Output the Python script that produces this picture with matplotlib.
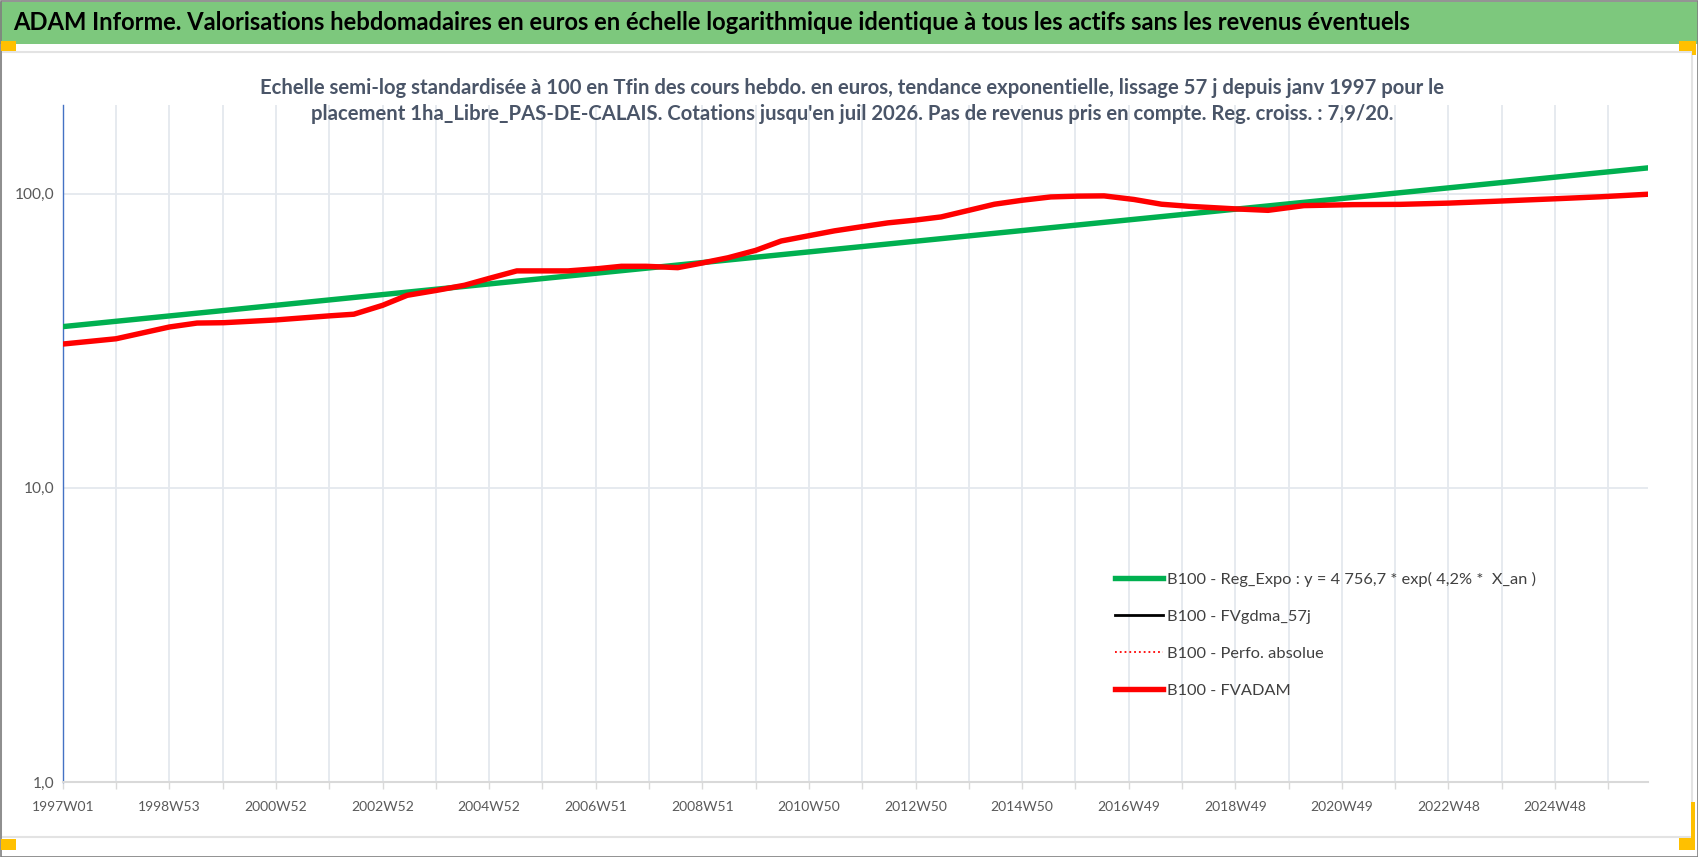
import matplotlib
matplotlib.use("Agg")
import matplotlib.pyplot as plt
from matplotlib.patches import Rectangle
from matplotlib.lines import Line2D

plt.rcParams["font.family"] = ["Lato", "DejaVu Sans"]

# -- data (week index since 1997W01, base 100 at end)
fvadam_week = [0, 52, 104, 131, 157, 208, 260, 284, 312, 336, 365, 392, 417, 443,
               493, 523, 545, 569, 600, 624, 649, 676, 701, 727, 753, 779, 805, 831,
               857, 884, 909, 936, 964, 990, 1016, 1045, 1072, 1099, 1144, 1176,
               1211, 1259, 1305, 1352, 1399, 1456, 1500, 1547]
fvadam_val = [30.8, 32.1, 35.2, 36.3, 36.4, 37.2, 38.4, 38.9, 41.7, 45.1, 46.9, 48.8,
              51.6, 54.6, 54.6, 55.6, 56.6, 56.6, 56.0, 58.1, 60.5, 64.1, 69.0, 71.8,
              74.7, 77.1, 79.5, 81.2, 83.3, 87.7, 92.0, 94.9, 97.4, 98.0, 98.2, 95.5,
              92.0, 90.5, 88.7, 87.7, 91.0, 91.7, 91.9, 92.8, 94.2, 96.0, 97.5, 99.5]
# moving average and absolute perf sit under the FVADAM curve
fvgdma_week = fvadam_week
fvgdma_val = fvadam_val
perfo_week = fvadam_week
perfo_val = fvadam_val
# exponential regression (straight on log scale)
reg_week = [0, 1547]
reg_val = [35.3, 122.3]

x_labels = ["1997W01", "1998W53", "2000W52", "2002W52", "2004W52", "2006W51",
            "2008W51", "2010W50", "2012W50", "2014W50", "2016W49", "2018W49",
            "2020W49", "2022W48", "2024W48"]
y_ticks = [1, 10, 100]
y_labels = ["1,0", "10,0", "100,0"]

series_labels = ["B100 - Reg_Expo : y = 4 756,7 * exp( 4,2% *  X_an )",
                 "B100 - FVgdma_57j", "B100 - Perfo. absolue", "B100 - FVADAM"]

title = ("ADAM Informe. Valorisations hebdomadaires en euros en échelle logarithmique "
         "identique à tous les actifs sans les revenus éventuels")
subtitle = ("Echelle semi-log standardisée à 100 en Tfin des cours hebdo. en euros, "
            "tendance exponentielle, lissage 57 j depuis janv 1997 pour le\n"
            "placement 1ha_Libre_PAS-DE-CALAIS. Cotations jusqu'en juil 2026. "
            "Pas de revenus pris en compte. Reg. croiss. : 7,9/20.")

GREEN = "#00B050"
RED = "#FF0000"
W, H = 1698, 857

fig = plt.figure(figsize=(W / 100, H / 100), dpi=100)
fig.patch.set_facecolor("white")


def px(x0, y0, x1, y1):
    # pixel box (top-left origin) -> figure fraction rect
    return (x0 / W, 1 - y1 / H), (x1 - x0) / W, (y1 - y0) / H


# title band
xy, w, h = px(0, 2, W, 44)
fig.patches.append(Rectangle(xy, w, h, transform=fig.transFigure,
                             facecolor="#7DC87D", edgecolor="none", zorder=0))
fig.text(13 / W, 1 - 23 / H, title, fontsize=17.1, fontweight="bold",
         color="black", ha="left", va="center")

# chart frame
xy, w, h = px(1, 52, 1692, 837)
fig.patches.append(Rectangle(xy, w, h, transform=fig.transFigure,
                             facecolor="none", edgecolor="#E3E3E3", lw=1.5))
xy, w, h = px(0.5, 0.5, W - 0.5, H - 0.5)
fig.patches.append(Rectangle(xy, w, h, transform=fig.transFigure,
                             facecolor="none", edgecolor="#7F7F7F", lw=1.2))

# yellow handles
for box in [(1, 41, 16, 51), (1, 839, 16, 850), (1679, 41, 1696, 51),
            (1692, 41, 1696, 55), (1679, 838, 1695, 850), (1691, 802, 1695, 850)]:
    xy, w, h = px(*box)
    fig.patches.append(Rectangle(xy, w, h, transform=fig.transFigure,
                                 facecolor="#FFC000", edgecolor="none"))

fig.text(852 / W, 1 - 101 / H, subtitle, fontsize=14.6, fontweight="bold",
         color="#4A5568", ha="center", va="center", linespacing=1.4)

# plot area
ax = fig.add_axes([62.8 / W, 75 / H, (1648.3 - 62.8) / W, (782 - 105) / H])
ax.set_yscale("log")
ax.set_ylim(1, 200)
ax.set_xlim(0, 1547)

ax.plot(perfo_week, perfo_val, color=RED, lw=1.2, ls=":", zorder=2)
ax.plot(fvgdma_week, fvgdma_val, color="black", lw=1.8, zorder=3)
ax.plot(reg_week, reg_val, color=GREEN, lw=3.9, solid_capstyle="butt", zorder=4)
ax.plot(fvadam_week, fvadam_val, color=RED, lw=3.9, solid_capstyle="butt", zorder=5)

ticks = list(range(0, 1548, 52))
tick_labels = []
for i in range(len(ticks)):
    tick_labels.append(x_labels[i // 2] if i % 2 == 0 else "")
ax.set_xticks(ticks)
ax.set_xticklabels(tick_labels, fontsize=10, color="#595959")
ax.set_yticks(y_ticks)
ax.set_yticklabels(y_labels, fontsize=11.2, color="#595959")
ax.yaxis.set_minor_locator(matplotlib.ticker.NullLocator())
ax.tick_params(axis="x", length=5, width=1, color="#D9D9D9", pad=9)
ax.tick_params(axis="y", length=0, pad=6)

ax.grid(True, color="#E4E8EE", lw=1.3)
ax.set_axisbelow(True)
for side in ["top", "right"]:
    ax.spines[side].set_visible(False)
ax.spines["left"].set_color("#4472C4")
ax.spines["left"].set_linewidth(1.0)
ax.spines["bottom"].set_color("#D9D9D9")
ax.spines["bottom"].set_linewidth(1.5)

handles = [Line2D([], [], color=GREEN, lw=3.9),
           Line2D([], [], color="black", lw=2.0),
           Line2D([], [], color=RED, lw=1.3, ls=":"),
           Line2D([], [], color=RED, lw=3.9)]
leg = ax.legend(handles, series_labels, loc="upper left",
                bbox_to_anchor=(1100 / W, 1 - 557 / H), bbox_transform=fig.transFigure,
                frameon=False, fontsize=11.8, handlelength=2.95, handletextpad=0.25,
                labelspacing=1.38)
for t in leg.get_texts():
    t.set_color("#404040")

fig.savefig("out.png", dpi=100)
